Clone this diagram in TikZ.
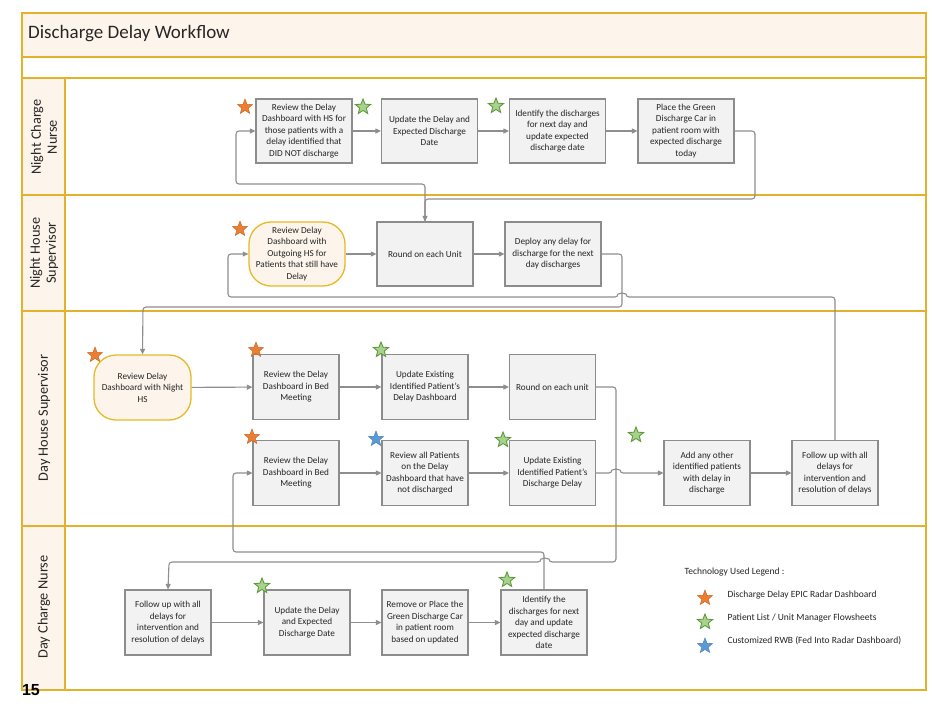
\documentclass[tikz,border=0pt]{standalone}
\usepackage{fontspec}
\setmainfont{Carlito}
\newfontfamily\numfont{Liberation Sans}
\usetikzlibrary{shapes.geometric,arrows.meta}
\definecolor{gold}{HTML}{E3B22A}
\definecolor{peach}{HTML}{FDF5EC}
\definecolor{boxfill}{HTML}{F2F2F2}
\definecolor{boxline}{HTML}{8C8C8C}
\definecolor{conn}{HTML}{8E8E8E}
\definecolor{ostar}{HTML}{ED7D31}
\definecolor{gstarf}{HTML}{A9D18E}
\definecolor{gstarl}{HTML}{5E9A3C}
\definecolor{bstar}{HTML}{5B9BD5}
\definecolor{txt}{HTML}{262626}
\tikzset{
  lane/.style={draw=gold, line width=1.6pt},
  stepbox/.style={draw=boxline, fill=boxfill, line width=1.2pt, minimum width=96pt, minimum height=64pt, inner sep=1pt, align=center, text=txt, font=\fontsize{9.2}{11.5}\selectfont},
  narrowbox/.style={stepbox, minimum width=86pt, minimum height=65pt},
  termbox/.style={stepbox, draw=gold!90!yellow, fill=peach, rounded corners=22pt, line width=1.3pt},
  flow/.style={draw=conn, line width=1.1pt, rounded corners=3pt, -{Triangle[length=5.5pt,width=5pt]}},
  starbase/.style={star, star points=5, star point ratio=2.3, minimum size=16pt, inner sep=0pt},
  ostarn/.style={starbase, fill=ostar, draw=ostar!80!black, line width=0.4pt},
  gstarn/.style={starbase, fill=gstarf, draw=gstarl, line width=0.9pt},
  bstarn/.style={starbase, fill=bstar, draw=bstar!80!black, line width=0.4pt},
  lanelabel/.style={rotate=90, align=center, text=txt, font=\fontsize{14.3}{16}\selectfont},
  legtext/.style={anchor=west, text=txt, font=\fontsize{9.5}{11}\selectfont}
}
\begin{document}
\begin{tikzpicture}[x=1pt,y=-1pt]
\useasboundingbox (0,0) rectangle (932,706);
\fill[white] (0,0) rectangle (932,706);
% frame
\fill[peach] (22,13) rectangle (926,57);
\fill[white!97!peach] (22,57) rectangle (926,78);
\fill[peach] (22,78) rectangle (65,690);
\draw[lane] (22,13) rectangle (926,690);
\draw[lane] (22,57) -- (926,57);
\draw[lane] (22,78) -- (926,78);
\draw[lane] (22,195) -- (926,195);
\draw[lane] (22,311) -- (926,311);
\draw[lane] (22,526) -- (926,526);
\draw[lane] (65,78) -- (65,690);
\node[anchor=west, inner sep=0pt, text=txt, font=\fontsize{19}{20}\selectfont] (title) at (28,34) {Discharge Delay Workflow};
\node[lanelabel] (l1) at (44,137) {Night Charge\\Nurse};
\node[lanelabel] (l2) at (44,253) {Night House\\Supervisor};
\node[lanelabel] (l3) at (44,418) {Day House Supervisor};
\node[lanelabel] (l4) at (44,607) {Day Charge Nurse};
\node[font=\numfont\bfseries\fontsize{16}{16}\selectfont, text=black] (pg) at (31,690) {15};

% Night charge nurse
\node[stepbox] (N1) at (304,131) {Review the Delay\\Dashboard with HS for\\those patients with a\\delay identified that\\DID NOT discharge};
\node[stepbox] (N2) at (429.5,131) {Update the Delay and\\Expected Discharge\\Date};
\node[stepbox] (N3) at (557.5,131) {Identify the discharges\\for next day and\\update expected\\discharge date};
\node[stepbox] (N4) at (686,131) {Place the Green\\Discharge Car in\\patient room with\\expected discharge\\today};
% Night house supervisor
\node[termbox] (H1) at (297,254) {Review Delay\\Dashboard with\\Outgoing HS for\\Patients that still have\\Delay};
\node[stepbox] (H2) at (425,254) {Round on each Unit};
\node[stepbox] (H3) at (553,254) {Deploy any delay for\\discharge for the next\\day discharges};
% Day house supervisor
\node[termbox, minimum width=97pt, minimum height=65pt] (D1) at (142.5,387.5) {Review Delay\\Dashboard with Night\\HS};
\node[narrowbox] (D2) at (296,387) {Review the Delay\\Dashboard in Bed\\Meeting};
\node[narrowbox] (D3) at (425,387) {Update Existing\\Identified Patient's\\Delay Dashboard};
\node[narrowbox] (D4) at (552.5,387) {Round on each unit};
\node[narrowbox] (D5) at (296,473) {Review the Delay\\Dashboard in Bed\\Meeting};
\node[narrowbox] (D6) at (425,473) {Review all Patients\\on the Delay\\Dashboard that have\\not discharged};
\node[narrowbox] (D7) at (552.5,473) {Update Existing\\Identified Patient's\\Discharge Delay};
\node[narrowbox] (D8) at (707,473) {Add any other\\identified patients\\with delay in\\discharge};
\node[narrowbox] (D9) at (835,473) {Follow up with all\\delays for\\intervention and\\resolution of delays};
% Day charge nurse
\node[narrowbox] (C1) at (168,622.5) {Follow up with all\\delays for\\intervention and\\resolution of delays};
\node[narrowbox] (C2) at (307,622.5) {Update the Delay\\and Expected\\Discharge Date};
\node[narrowbox] (C3) at (425,622.5) {Remove or Place the\\Green Discharge Car\\in patient room\\based on updated};
\node[narrowbox] (C4) at (544,622.5) {Identify the\\discharges for next\\day and update\\expected discharge\\date};

% stars
\node[ostarn] (s1) at (245,107) {};
\node[gstarn] (s2) at (363,107) {};
\node[gstarn] (s3) at (496,106) {};
\node[ostarn] (s4) at (240,229) {};
\node[ostarn] (s5) at (95,355) {};
\node[ostarn] (s6) at (256,350) {};
\node[gstarn] (s7) at (381,350) {};
\node[ostarn] (s8) at (252,437) {};
\node[bstarn] (s9) at (376,439) {};
\node[gstarn] (s10) at (503,440) {};
\node[gstarn] (s11) at (636,435) {};
\node[gstarn] (s12) at (262,586) {};
\node[gstarn] (s13) at (507,580) {};

% connectors
\draw[flow] (N1) -- (N2);
\draw[flow] (N2) -- (N3);
\draw[flow] (N3) -- (N4);
\draw[flow] (N4.east) -- (755,131) -- (755,199) -- (425,199) -- (H2.north);
\draw[flow] (H2.north) -- (425,184) -- (236,184) -- (236,131) -- (N1.west);
\draw[flow] (H1) -- (H2);
\draw[flow] (H2) -- (H3);
\draw[flow] (H3.east) -- (622,254) -- (622,307) -- (143,307) -- (D1.north);
\draw[flow] (D9.north) -- (835,297) -- (626,297) arc[start angle=0, end angle=-180, radius=4] -- (228,297) -- (228,254) -- (H1.west);
\draw[flow] (D1) -- (D2);
\draw[flow] (D2) -- (D3);
\draw[flow] (D3) -- (D4);
\draw[flow] (D5) -- (D6);
\draw[flow] (D6) -- (D7);
\draw[flow] (D7.east) -- (612,473) arc[start angle=180, end angle=360, radius=4] -- (D8.west);
\draw[flow] (D8) -- (D9);
\draw[flow] (D4.east) -- (616,387) -- (616,562) -- (549,562) arc[start angle=0, end angle=-180, radius=4] -- (169,562) -- (C1.north);
\draw[flow] (C4.north) -- (544,552) -- (233,552) -- (233,473) -- (D5.west);
\draw[flow] (C1) -- (C2);
\draw[flow] (C2) -- (C3);
\draw[flow] (C3) -- (C4);

% legend
\node[legtext] (lg) at (681,572) {Technology Used Legend :};
\node[ostarn] (ls1) at (705,598) {};
\node[gstarn] (ls2) at (705,622) {};
\node[bstarn] (ls3) at (705,646) {};
\node[legtext] (lt1) at (724,595) {Discharge Delay EPIC Radar Dashboard};
\node[legtext] (lt2) at (724,618) {Patient List / Unit Manager Flowsheets};
\node[legtext] (lt3) at (724,641) {Customized RWB (Fed Into Radar Dashboard)};
\end{tikzpicture}
\end{document}
